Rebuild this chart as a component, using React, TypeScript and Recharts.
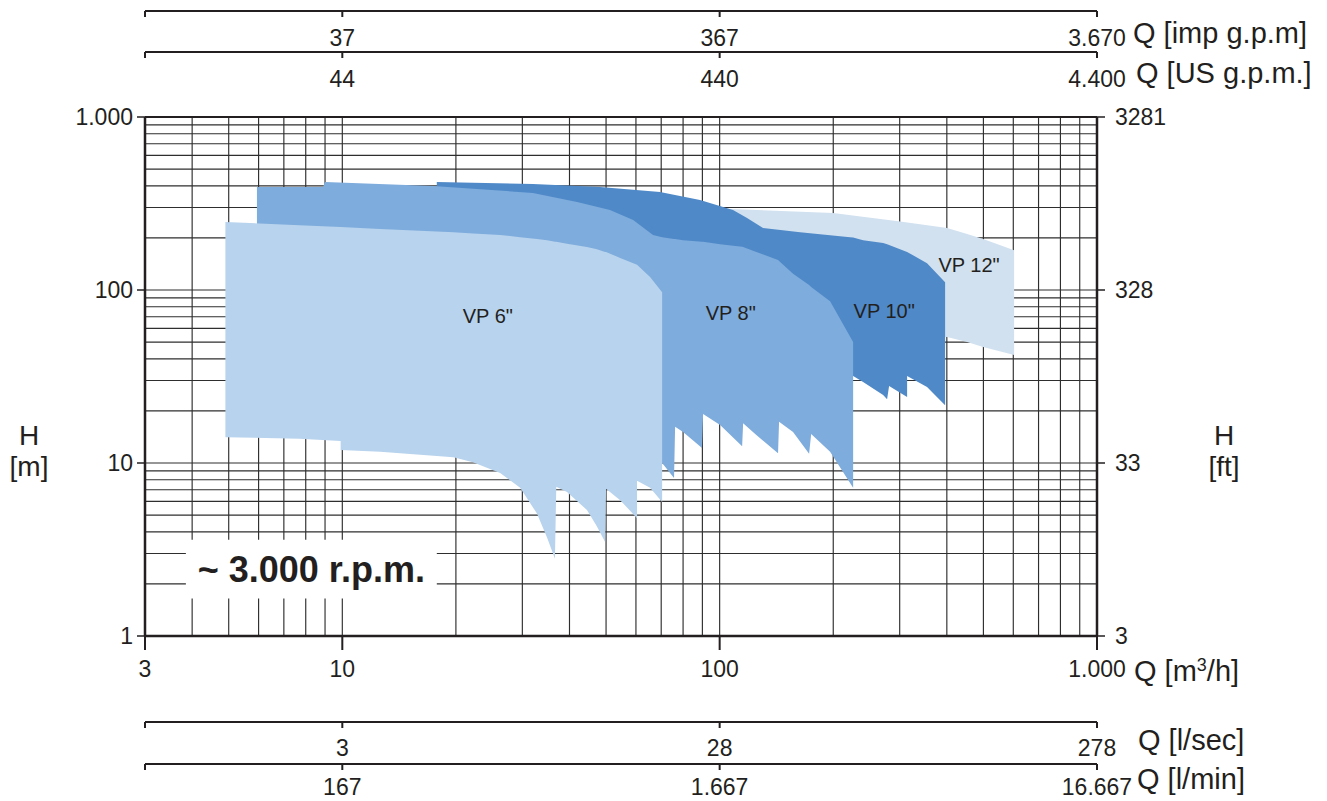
import React from 'react'
import {
  ComposedChart, Area, XAxis, YAxis, CartesianGrid,
  ReferenceArea, ReferenceDot,
} from 'recharts'

// ── 目盛り ────────────────────────────────────────────────────────────────
const Q_TICKS = [3, 10, 100, 1000]
const M3H_LABELS = ['3', '10', '100', '1.000']
const IMP_LABELS = ['', '37', '367', '3.670']
const USG_LABELS = ['', '44', '440', '4.400']
const LSEC_LABELS = ['', '3', '28', '278']
const LMIN_LABELS = ['', '167', '1.667', '16.667']

const H_TICKS = [1, 10, 100, 1000]
const M_LABELS = ['1', '10', '100', '1.000']
const FT_LABELS = ['3', '33', '328', '3281']

const GRID_Q = [4, 5, 6, 7, 8, 9, 10, 20, 30, 40, 50, 60, 70, 80, 90, 100, 200, 300, 400, 500, 600, 700, 800, 900]
const GRID_H = [2, 3, 4, 5, 6, 7, 8, 9, 10, 20, 30, 40, 50, 60, 70, 80, 90, 100, 200, 300, 400, 500, 600, 700, 800, 900]

// ── 運転範囲 [Q m3/h, H min, H max] ─────────────────────────────────────────
const VP6 = [
  [4.9, 14.1, 247], [7.7, 13.8, 237], [9.9, 13.4, 231], [9.9, 11.9, 231],
  [12.6, 11.6, 225], [19.7, 10.8, 216], [22.2, 10.1, 212], [26.2, 8.75, 208],
  [29.6, 7.2, 202], [32.8, 5.1, 197], [34.9, 3.7, 194], [36.6, 2.8, 190],
  [36.9, 7.3, 190], [39.4, 6.8, 185], [44.5, 5.35, 177], [47.3, 4.3, 172],
  [49.7, 3.5, 166], [50.0, 7.1, 166], [54.5, 6.1, 153], [60.4, 4.8, 140],
  [60.4, 7.9, 140], [65.4, 7.2, 119], [70.4, 5.95, 97],
]
const VP8 = [
  [5.94, 17.7, 394], [8.89, 17.7, 394], [9.0, 17.7, 421], [17.4, 17.3, 399],
  [32.0, 17.0, 364], [41.9, 16.6, 323], [51.2, 16.2, 290], [59.0, 15.1, 254],
  [66.6, 14.5, 208], [70.4, 10.0, 202], [75.7, 8.2, 197], [76.2, 16.2, 197],
  [80.0, 15.1, 194], [89.8, 12.2, 190], [90.4, 19.2, 190], [100.3, 16.6, 184],
  [114.7, 12.5, 178], [115.4, 17.0, 177], [125.1, 14.5, 166], [142.8, 11.4, 149],
  [143.7, 17.3, 147], [156.5, 15.1, 124], [172.6, 11.3, 107], [174.8, 14.7, 104],
  [196.2, 11.6, 86], [225.8, 7.2, 50],
]
const VP10 = [
  [17.8, 58.7, 421], [32.0, 51.4, 410], [48.2, 46.2, 394], [69.5, 42.1, 369],
  [88.7, 39.4, 331], [108.5, 37.4, 290], [118.2, 36.4, 261], [130.3, 35.4, 228],
  [163.4, 34.0, 216], [221.6, 32.3, 202], [225.8, 31.8, 201], [240.0, 29.4, 194],
  [271.2, 24.7, 187], [277.8, 23.4, 184], [281.2, 27.9, 182], [313.9, 24.1, 166],
  [313.9, 31.8, 166], [354.5, 27.5, 143], [395.8, 21.6, 111],
]
const VP12 = [
  [100.3, 58.7, 298], [106.6, 57.9, 294], [199.8, 55.7, 279], [300.8, 54.2, 249],
  [400.6, 53.5, 228], [452.7, 50.0, 211], [499.2, 46.8, 197], [603, 42.1, 170],
]

const PUMP_NAMES = ['VP 12"', 'VP 10"', 'VP 8"', 'VP 6"']
const PUMP_ROWS = [VP12, VP10, VP8, VP6]
const PUMP_COLORS = ['#d1e1ef', '#4f89c8', '#7eacdc', '#b8d3ed']
const NAME_Q = [458, 273, 107, 24.3]
const NAME_H = [140, 76, 73.6, 71.2]

const INK = '#231f20'
const FONT = '"Liberation Sans", Arial, Helvetica, sans-serif'

// recharts のスケール (関数 or map() を持つオブジェクト) で値 → px
function toPx(scale: any, v: number): number | undefined {
  if (typeof scale === 'function') return scale(v)
  if (scale && typeof scale.map === 'function') return scale.map(v)
  if (scale && typeof scale.apply === 'function') return scale.apply(v)
  return undefined
}

// ── 流量スケール (目盛り + 単位) ─────────────────────────────────────────────
function RulerTick(props: any) {
  const { x, y, payload, labels, title, tickLen, labelDy, titleDx, titleDy } = props
  const i = Q_TICKS.findIndex(t => Math.abs(t - payload?.value) < 1e-6)
  const isLast = i === Q_TICKS.length - 1
  return (
    <g>
      <line x1={x} y1={y} x2={x} y2={y + tickLen} stroke={INK} strokeWidth={2} />
      {labels[i] ? (
        <text x={x} y={y + labelDy} textAnchor="middle" fontSize={23} fill={INK}>
          {labels[i]}
        </text>
      ) : null}
      {isLast && title ? (
        <text x={x + titleDx} y={y + titleDy} fontSize={29} fill={INK}>
          {title}
        </text>
      ) : null}
    </g>
  )
}

function HLabel({ viewBox, side, unit }: any) {
  const vb = viewBox || { x: side === 'left' ? 0 : 1097, y: 117, width: 145, height: 519 }
  const cx = side === 'left' ? vb.x + 29 : vb.x + 127
  const mid = vb.y + vb.height / 2
  return (
    <text textAnchor="middle" fontSize={28} fill={INK}>
      <tspan x={cx} y={mid + 68}>H</tspan>
      <tspan x={cx} y={mid + 99}>{unit}</tspan>
    </text>
  )
}

const qAxis = {
  type: 'number' as const,
  scale: 'log' as const,
  domain: [3, 1000],
  allowDataOverflow: true,
  dataKey: 'q',
  ticks: Q_TICKS,
  interval: 0,
  tickSize: 0,
  tickMargin: 0,
  tickLine: false,
  axisLine: { stroke: INK, strokeWidth: 2 },
}

export default function App() {
  const m3Title = (
    <>
      Q [m<tspan dy={-10} fontSize={18}>3</tspan>
      <tspan dy={10}>/h]</tspan>
    </>
  )

  return (
    <div style={{ position: 'absolute', left: 0, top: 0, width: 1327, height: 801, background: '#fff', fontFamily: FONT }}>
      <ComposedChart width={1327} height={801} margin={{ top: 0, right: 0, bottom: 0, left: 0 }}>
        <CartesianGrid
          xAxisId="b1"
          yAxisId="m"
          stroke="#2e2e2e"
          strokeWidth={1.15}
          verticalCoordinatesGenerator={({ xAxis }: any) =>
            GRID_Q.map(v => toPx(xAxis?.scale, v)).filter((p): p is number => Number.isFinite(p))}
          horizontalCoordinatesGenerator={({ yAxis }: any) =>
            GRID_H.map(v => toPx(yAxis?.scale, v)).filter((p): p is number => Number.isFinite(p))}
        />

        {/* 上側 (内→外): 枠線, US g.p.m., imp g.p.m. */}
        <XAxis {...qAxis} xAxisId="t1" orientation="top" height={65} tick={false} />
        <XAxis
          {...qAxis}
          xAxisId="t2"
          orientation="top"
          height={41}
          tick={<RulerTick labels={USG_LABELS} title="Q [US g.p.m.]" tickLen={6} labelDy={35} titleDx={39} titleDy={31} />}
        />
        <XAxis
          {...qAxis}
          xAxisId="t3"
          orientation="top"
          height={11}
          tick={<RulerTick labels={IMP_LABELS} title="Q [imp g.p.m]" tickLen={6} labelDy={35} titleDx={36} titleDy={32} />}
        />

        {/* 下側 (内→外): m3/h, l/sec, l/min */}
        <XAxis
          {...qAxis}
          xAxisId="b1"
          orientation="bottom"
          height={86}
          axisLine={{ stroke: INK, strokeWidth: 2.5 }}
          tick={<RulerTick labels={M3H_LABELS} title={m3Title} tickLen={14} labelDy={41} titleDx={37} titleDy={45} />}
        />
        <XAxis
          {...qAxis}
          xAxisId="b2"
          orientation="bottom"
          height={42}
          tick={<RulerTick labels={LSEC_LABELS} title="Q [l/sec]" tickLen={6} labelDy={34} titleDx={41} titleDy={28} />}
        />
        <XAxis
          {...qAxis}
          xAxisId="b3"
          orientation="bottom"
          height={37}
          tick={<RulerTick labels={LMIN_LABELS} title="Q [l/min]" tickLen={6} labelDy={31} titleDx={40} titleDy={25} />}
        />

        <YAxis
          yAxisId="m"
          orientation="left"
          width={145}
          type="number"
          scale="log"
          domain={[1, 1000]}
          allowDataOverflow
          ticks={H_TICKS}
          interval={0}
          tickFormatter={(v: number) => M_LABELS[H_TICKS.indexOf(v)] ?? ''}
          tickSize={8}
          tickMargin={4}
          tick={{ fontSize: 23, fill: INK }}
          tickLine={{ stroke: INK, strokeWidth: 1.5 }}
          axisLine={{ stroke: INK, strokeWidth: 2.5 }}
          label={<HLabel side="left" unit="[m]" />}
        />
        <YAxis
          yAxisId="ft"
          orientation="right"
          width={230}
          type="number"
          scale="log"
          domain={[1, 1000]}
          allowDataOverflow
          ticks={H_TICKS}
          interval={0}
          tickFormatter={(v: number) => FT_LABELS[H_TICKS.indexOf(v)] ?? ''}
          tickSize={8}
          tickMargin={10}
          tick={{ fontSize: 23, fill: INK }}
          tickLine={{ stroke: INK, strokeWidth: 1.5 }}
          axisLine={{ stroke: INK, strokeWidth: 2.5 }}
          label={<HLabel side="right" unit="[ft]" />}
        />

        {PUMP_ROWS.map((rows, i) => (
          <Area
            key={PUMP_NAMES[i]}
            name={PUMP_NAMES[i]}
            data={rows.map(([q, lo, hi]) => ({ q, h: [lo, hi] }))}
            dataKey="h"
            xAxisId="b1"
            yAxisId="m"
            type="linear"
            stroke="none"
            fill={PUMP_COLORS[i]}
            fillOpacity={1}
            dot={false}
            activeDot={false}
            isAnimationActive={false}
          />
        ))}

        <ReferenceArea
          xAxisId="b1"
          yAxisId="m"
          x1={3.85}
          x2={17.8}
          y1={1.65}
          y2={3.6}
          fill="#fff"
          fillOpacity={1}
          stroke="none"
          label={{ value: '~ 3.000 r.p.m.', position: 'center', fontSize: 36, fontWeight: 700, fill: INK }}
        />

        {PUMP_NAMES.map((name, i) => (
          <ReferenceDot
            key={name}
            xAxisId="b1"
            yAxisId="m"
            x={NAME_Q[i]}
            y={NAME_H[i]}
            r={0}
            fill="none"
            stroke="none"
            label={{ value: name, position: 'center', fontSize: 20, fill: INK }}
          />
        ))}
      </ComposedChart>
    </div>
  )
}
